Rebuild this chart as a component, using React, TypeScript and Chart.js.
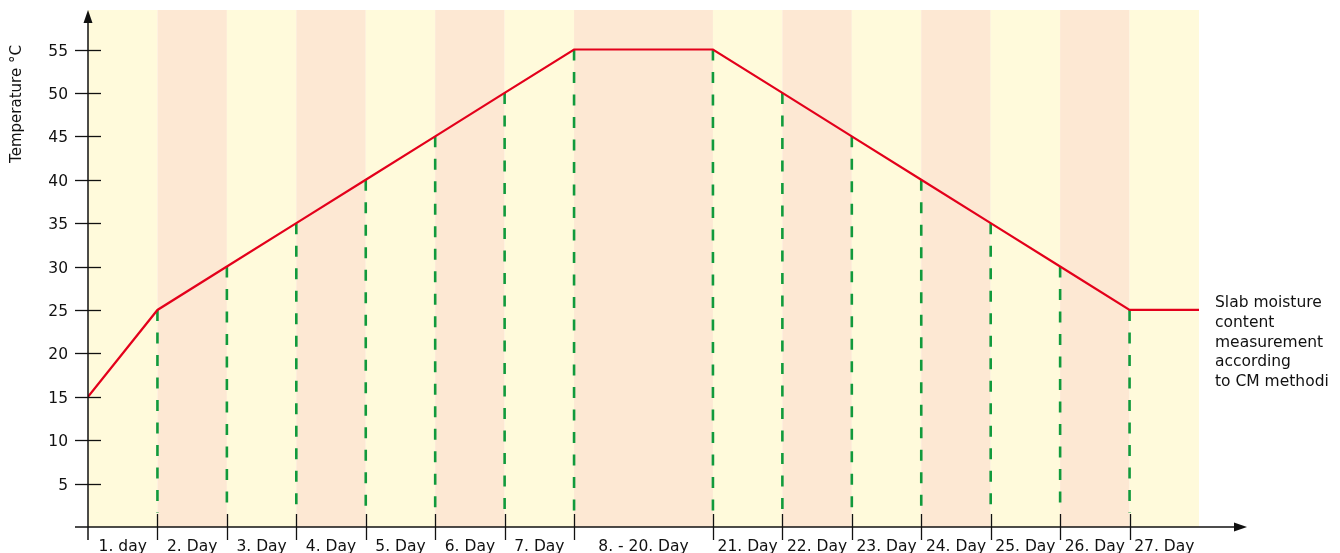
import React, { useEffect, useRef } from "react";
import { Chart, registerables } from "chart.js";

Chart.register(...registerables);

// ---- data ----
const dayLabels = [
  "1. day", "2. Day", "3. Day", "4. Day", "5. Day", "6. Day", "7. Day",
  "8. - 20. Day",
  "21. Day", "22. Day", "23. Day", "24. Day", "25. Day", "26. Day", "27. Day",
];
// boundaries of the day bands on the (time) axis; 8.-20. Day spans two units
const dayBoundaries = [0, 1, 2, 3, 4, 5, 6, 7, 9, 10, 11, 12, 13, 14, 15, 16];
// temperature at each boundary
const temperatures = [15, 25, 30, 35, 40, 45, 50, 55, 55, 50, 45, 40, 35, 30, 25, 25];
const yTickValues = [5, 10, 15, 20, 25, 30, 35, 40, 45, 50, 55];
const yAxisTitle = "Temperature °C";
const annotationLines = [
  "Slab moisture",
  "content",
  "measurement",
  "according",
  "to CM methodi",
];

const FONT = '"DejaVu Sans", Verdana, sans-serif';
const BAND_A = "#fffadb";
const BAND_B = "#fde8d3";
const RED = "#e3001b";
const GREEN = "#119a3c";
const INK = "#111111";
const DASH_BOTTOM = 1.6;

const decorPlugin = {
  id: "decor",
  beforeDatasetsDraw(chart: any) {
    const { ctx, chartArea, scales } = chart;
    const x = scales.x;
    ctx.save();
    for (let i = 0; i < dayBoundaries.length - 1; i++) {
      const x0 = x.getPixelForValue(dayBoundaries[i]);
      const x1 = x.getPixelForValue(dayBoundaries[i + 1]);
      ctx.fillStyle = i % 2 === 0 ? BAND_A : BAND_B;
      ctx.fillRect(x0, chartArea.top, x1 - x0, chartArea.bottom - chartArea.top);
    }
    ctx.restore();
  },
  afterDatasetsDraw(chart: any) {
    const { ctx, chartArea, scales } = chart;
    const x = scales.x;
    const y = scales.y;
    const ax = x.getPixelForValue(0);
    const ay = y.getPixelForValue(0);
    ctx.save();
    ctx.strokeStyle = INK;
    ctx.fillStyle = INK;
    ctx.lineWidth = 1.5;
    // x axis
    ctx.beginPath();
    ctx.moveTo(ax - 13, ay);
    ctx.lineTo(chartArea.right + 40, ay);
    ctx.stroke();
    ctx.beginPath();
    ctx.moveTo(chartArea.right + 48, ay);
    ctx.lineTo(chartArea.right + 35, ay - 4.5);
    ctx.lineTo(chartArea.right + 35, ay + 4.5);
    ctx.closePath();
    ctx.fill();
    // y axis
    ctx.beginPath();
    ctx.moveTo(ax, ay + 13);
    ctx.lineTo(ax, chartArea.top + 8);
    ctx.stroke();
    ctx.beginPath();
    ctx.moveTo(ax, chartArea.top);
    ctx.lineTo(ax - 4.5, chartArea.top + 13);
    ctx.lineTo(ax + 4.5, chartArea.top + 13);
    ctx.closePath();
    ctx.fill();
    // y ticks + labels
    ctx.font = `15.5px ${FONT}`;
    ctx.textAlign = "right";
    ctx.textBaseline = "middle";
    ctx.lineWidth = 1.3;
    yTickValues.forEach((v) => {
      const py = Math.round(y.getPixelForValue(v)) + 0.5;
      ctx.beginPath();
      ctx.moveTo(ax - 13, py);
      ctx.lineTo(ax + 13, py);
      ctx.stroke();
      ctx.fillText(String(v), ax - 20, py + 1);
    });
    // x ticks
    for (let i = 1; i < dayBoundaries.length - 1; i++) {
      const px = Math.round(x.getPixelForValue(dayBoundaries[i])) + 0.5;
      ctx.beginPath();
      ctx.moveTo(px, ay - 13);
      ctx.lineTo(px, ay + 13);
      ctx.stroke();
    }
    // x labels
    ctx.textAlign = "center";
    ctx.textBaseline = "alphabetic";
    dayLabels.forEach((lab, i) => {
      const cx = (x.getPixelForValue(dayBoundaries[i]) + x.getPixelForValue(dayBoundaries[i + 1])) / 2;
      ctx.fillText(lab, cx, ay + 24);
    });
    // y title
    ctx.save();
    ctx.translate(17, 104);
    ctx.rotate(-Math.PI / 2);
    ctx.textAlign = "center";
    ctx.textBaseline = "middle";
    ctx.font = `15px ${FONT}`;
    ctx.fillText(yAxisTitle, 0, 0);
    ctx.restore();
    // annotation
    ctx.textAlign = "left";
    ctx.textBaseline = "middle";
    ctx.font = `15.5px ${FONT}`;
    const lastY = y.getPixelForValue(temperatures[temperatures.length - 1]);
    annotationLines.forEach((t, i) => {
      ctx.fillText(t, chartArea.right + 16, lastY - 7 + i * 19.8);
    });
    ctx.restore();
  },
};

export default function App() {
  const ref = useRef<HTMLCanvasElement | null>(null);
  useEffect(() => {
    if (!ref.current) return;
    const lineData = dayBoundaries.map((b, i) => ({ x: b, y: temperatures[i] }));
    const dashSets = dayBoundaries
      .map((b, i) => ({ b, i }))
      .filter(({ i }) => i > 0 && i < dayBoundaries.length - 1)
      .map(({ b, i }) => ({
        data: [
          { x: b, y: temperatures[i] },
          { x: b, y: DASH_BOTTOM },
        ],
        borderColor: GREEN,
        borderWidth: 2.6,
        borderDash: [11, 11.5],
        pointRadius: 0,
        fill: false,
        order: 1,
      }));
    const chart = new Chart(ref.current, {
      type: "line",
      data: {
        datasets: [
          {
            data: lineData,
            borderColor: RED,
            borderWidth: 2.2,
            pointRadius: 0,
            tension: 0,
            fill: false,
            order: 0,
          },
          ...dashSets,
        ] as any,
      },
      options: {
        responsive: false,
        animation: false,
        events: [],
        parsing: true,
        layout: { padding: { left: 88, top: 10, right: 141, bottom: 26 } },
        plugins: { legend: { display: false }, tooltip: { enabled: false } },
        scales: {
          x: { type: "linear", min: 0, max: 16, display: false },
          y: { type: "linear", min: 0, max: 59.55, display: false },
        },
      },
      plugins: [decorPlugin],
    });
    return () => chart.destroy();
  }, []);
  return (
    <div style={{ position: "fixed", left: 0, top: 0, width: 1340, height: 553, background: "#fff" }}>
      <canvas ref={ref} width={1340} height={553} />
    </div>
  );
}
